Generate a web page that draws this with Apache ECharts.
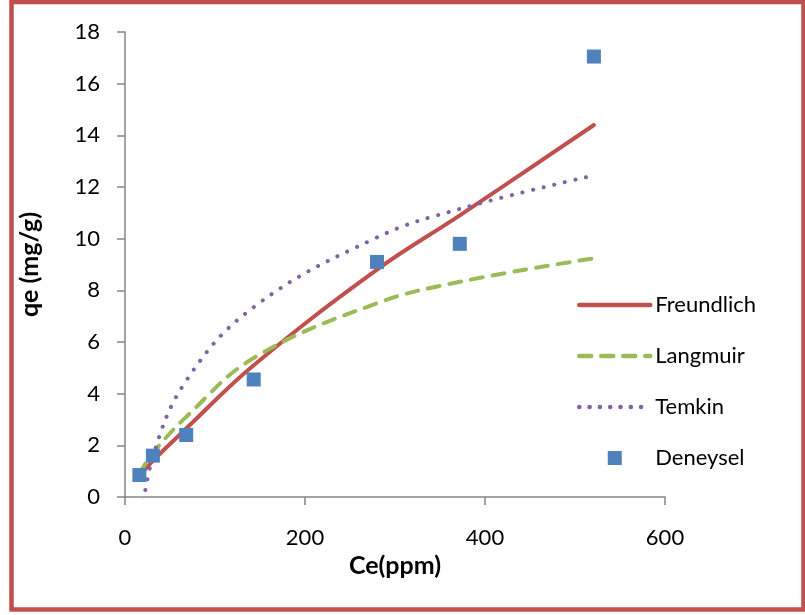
<!DOCTYPE html>
<html>
<head>
<meta charset="utf-8">
<script src="https://cdn.jsdelivr.net/npm/echarts@6/dist/echarts.min.js"></script>
<style>
html,body{margin:0;padding:0;background:#fff;}
#chart{width:805px;height:615px;}
</style>
</head>
<body>
<div id="chart"></div>
<script>
// Data
const ceValues = [16, 31, 68, 143, 280, 372, 521];
const deneysel = [0.85, 1.6, 2.4, 4.55, 9.1, 9.8, 17.05];
const freundlich = [0.8, 1.4, 2.65, 5.1, 8.8, 10.9, 14.4];
const langmuir = [0.9, 1.7, 3.1, 5.38, 7.5, 8.33, 9.24];
const temkin = [-1.4, 1.55, 4.5, 7.35, 10.05, 11.15, 12.45];
const xTicks = [0, 200, 400, 600];
const yTicks = [0, 2, 4, 6, 8, 10, 12, 14, 16, 18];

const pair = (ys) => ceValues.map((x, i) => [x, ys[i]]);
const FONT = 'Lato';
const RED = '#C0504D', GREEN = '#9BBB59', PURPLE = '#8064A2', BLUE = '#4F81BD';

const chart = echarts.init(document.getElementById('chart'), null, {renderer: 'canvas'});
chart.setOption({
  animation: false,
  backgroundColor: '#ffffff',
  graphic: [{
    type: 'rect',
    shape: {x: 11.5, y: 2, width: 792, height: 607.5},
    style: {fill: 'none', stroke: RED, lineWidth: 4.5},
    silent: true
  }],
  grid: {left: 125, right: 140, top: 32, bottom: 118, containLabel: false},
  xAxis: {
    type: 'value',
    min: xTicks[0], max: xTicks[xTicks.length - 1], interval: 200,
    name: 'Ce(ppm)', nameLocation: 'middle', nameGap: 54,
    nameTextStyle: {fontFamily: FONT, fontWeight: 'bold', fontSize: 25, color: '#000'},
    axisLine: {show: true, onZero: false, lineStyle: {color: '#868686', width: 1.5}},
    axisTick: {show: true, length: 8, lineStyle: {color: '#868686', width: 1.5}},
    axisLabel: {fontFamily: FONT, fontSize: 22, color: '#000', margin: 30},
    splitLine: {show: false}
  },
  yAxis: {
    type: 'value',
    min: yTicks[0], max: yTicks[yTicks.length - 1], interval: 2,
    name: 'qe (mg/g)', nameLocation: 'middle', nameGap: 83,
    nameTextStyle: {fontFamily: FONT, fontWeight: 'bold', fontSize: 25, color: '#000'},
    axisLine: {show: true, onZero: false, lineStyle: {color: '#868686', width: 1.5}},
    axisTick: {show: true, length: 8, lineStyle: {color: '#868686', width: 1.5}},
    axisLabel: {fontFamily: FONT, fontSize: 22, color: '#000', margin: 25},
    splitLine: {show: false}
  },
  legend: {
    orient: 'vertical',
    left: 572, top: 289,
    itemWidth: 71, itemHeight: 14, itemGap: 29,
    textStyle: {fontFamily: FONT, fontSize: 22, color: '#000', lineHeight: 22},
    data: [
      {name: 'Freundlich', itemStyle: {opacity: 0}, lineStyle: {width: 4.5, color: RED, cap: 'round'}},
      {name: 'Langmuir', itemStyle: {opacity: 0}, lineStyle: {width: 4.5, color: GREEN, type: [12, 10], cap: 'round'}},
      {name: 'Temkin', itemStyle: {opacity: 0}, lineStyle: {width: 4.5, color: PURPLE, type: [0.1, 10.2], cap: 'round'}},
      {name: 'Deneysel', icon: 'path://M0,0L10,0L10,10L0,10Z', itemStyle: {color: BLUE, opacity: 1}}
    ]
  },
  series: [
    {
      name: 'Freundlich', type: 'line', data: pair(freundlich),
      smooth: 0.4, symbol: 'none', clip: true, z: 2,
      lineStyle: {color: RED, width: 4, cap: 'round'},
      itemStyle: {color: RED}
    },
    {
      name: 'Langmuir', type: 'line', data: pair(langmuir),
      smooth: 0.4, symbol: 'none', clip: true, z: 2,
      lineStyle: {color: GREEN, width: 4, type: [12, 10], cap: 'round'},
      itemStyle: {color: GREEN}
    },
    {
      name: 'Temkin', type: 'line', data: pair(temkin),
      smooth: 0.4, symbol: 'none', clip: true, z: 2,
      lineStyle: {color: PURPLE, width: 4, type: [0.1, 10.8], cap: 'round'},
      itemStyle: {color: PURPLE}
    },
    {
      name: 'Deneysel', type: 'scatter', data: pair(deneysel),
      symbol: 'rect', symbolSize: 14, z: 5,
      itemStyle: {color: BLUE, opacity: 1}
    }
  ]
});
</script>
</body>
</html>
